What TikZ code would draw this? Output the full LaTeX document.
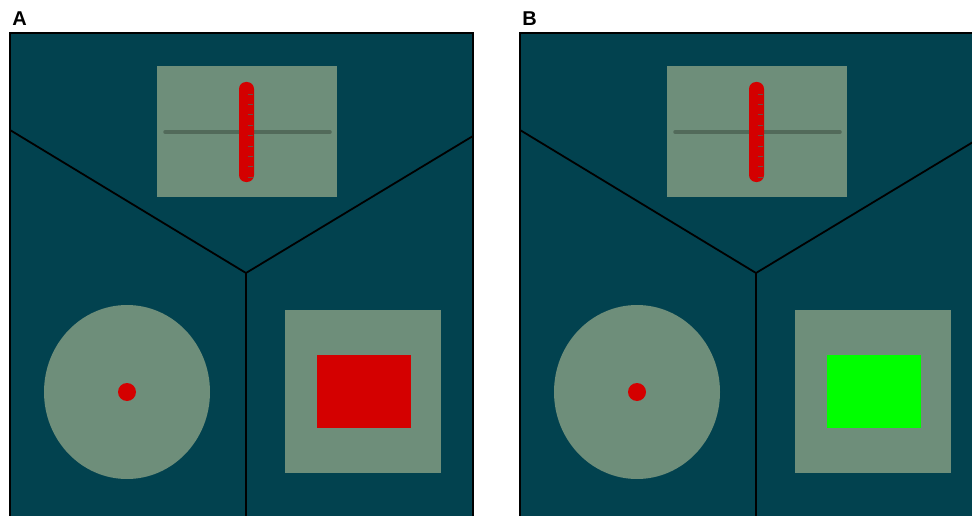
\documentclass[tikz,border=0pt]{standalone}
\usepackage{fontspec}
\setsansfont{Liberation Sans}
\usepackage{tikz}
\usetikzlibrary{positioning}
\definecolor{tankteal}{HTML}{02424F}
\definecolor{stagegray}{HTML}{6E8E7A}
\definecolor{rodline}{HTML}{526A5A}
\definecolor{tickgray}{HTML}{6A5048}
\definecolor{signalred}{HTML}{D40000}
\definecolor{signalgreen}{HTML}{00FF00}
\tikzset{
  panel/.style={fill=tankteal},
  frameline/.style={draw=black, line width=2pt},
  divider/.style={draw=black, line width=1.8pt},
  stage/.style={fill=stagegray},
  axisline/.style={draw=rodline, line width=3.5pt, line cap=round},
  marker/.style={fill=signalred},
  tickmark/.style={draw=tickgray, line width=0.8pt},
  panellabel/.style={font=\sffamily\bfseries\fontsize{20}{23}\selectfont, inner sep=0pt}
}
\begin{document}
\begin{tikzpicture}[x=1pt,y=-1pt]
\useasboundingbox (0,0) rectangle (972,516);
\foreach \p/\dx/\fillcol in {A/0/signalred, B/510/signalgreen} {
  \begin{scope}[xshift=\dx pt]
    % panel and its three fields
    \fill[panel] (10,33) rectangle (473,540);
    \coordinate (\p-l) at (10,130);
    \coordinate (\p-j) at (246,273);
    \coordinate (\p-r) at (473,136);
    \coordinate (\p-b) at (246,540);
    \draw[divider] (\p-l) -- (\p-j) -- (\p-r);
    \draw[divider] (\p-j) -- (\p-b);
    \draw[frameline] (10,540) -- (10,33) -- (473,33) -- (473,540);
    \node[panellabel] (\p-lab) at (19.5,19) {\p};
    % top field: rod with scale
    \fill[stage] (157,66) rectangle (337,197);
    \draw[axisline] (165,132) -- (330,132);
    \fill[marker, rounded corners=7pt] (239,82) rectangle (254,182);
    \foreach \t in {0,...,8}
      \draw[tickmark] (247.5,{94+10.4*\t}) -- (253,{94+10.4*\t});
    % left field: disc
    \fill[stage] (127,392) ellipse [x radius=83pt, y radius=87pt];
    \fill[marker] (127,392) circle [radius=9pt];
    % right field: square
    \fill[stage] (285,310) rectangle (441,473);
    \fill[\fillcol] (317,355) rectangle (411,428);
  \end{scope}
}
\end{tikzpicture}
\end{document}
